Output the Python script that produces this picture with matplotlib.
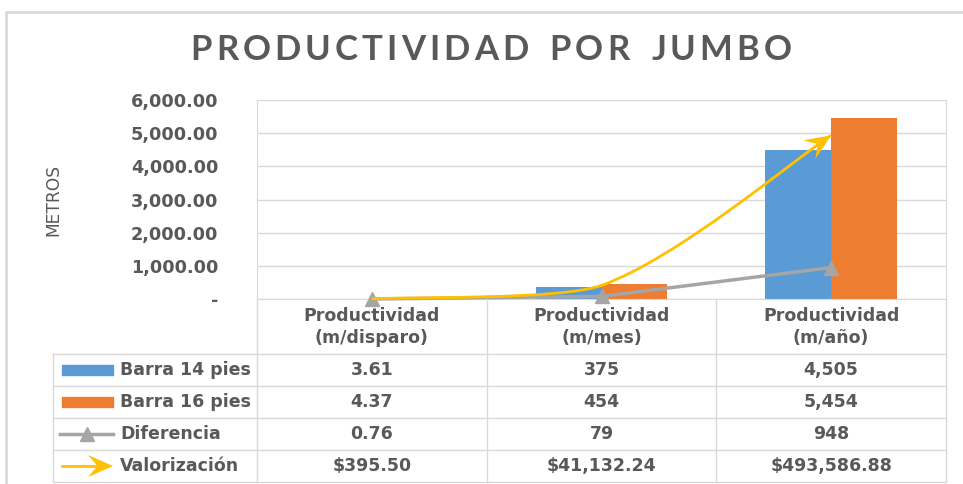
import numpy as np
import matplotlib.pyplot as plt
from matplotlib.patches import PathPatch, Polygon, Rectangle
from matplotlib.path import Path
from matplotlib.ticker import FuncFormatter
from matplotlib.font_manager import FontProperties

# datos de productividad por jumbo
categorias = ["Productividad\n(m/disparo)", "Productividad\n(m/mes)", "Productividad\n(m/año)"]
series = ["Barra 14 pies", "Barra 16 pies", "Diferencia", "Valorización"]
barra_14 = [3.61, 375, 4505]
barra_16 = [4.37, 454, 5454]
diferencia = [0.76, 79, 948]
valorizacion = [395.50, 41132.24, 493586.88]
titulo = "PRODUCTIVIDAD POR JUMBO"

AZUL = "#5B9BD5"
NARANJA = "#ED7D31"
GRIS = "#A5A5A5"
AMARILLO = "#FFC000"
TEXTO = "#595959"
LINEA = "#D9D9D9"

W, H = 963, 484
fig = plt.figure(figsize=(W / 100, H / 100), dpi=100)


def caja(x0, y0, x1, y1):
    # caja en pixeles (origen arriba a la izquierda) -> fraccion de figura
    return [x0 / W, 1 - y1 / H, (x1 - x0) / W, (y1 - y0) / H]


def fmt_metros(v):
    return f"{v:.2f}" if v < 10 else f"{v:,.0f}"


def punta(eje, tip, d, largo, semi, color):
    # punta de flecha tipo "stealth" en coordenadas de pixel de la capa
    d = np.asarray(d, float) / np.hypot(*d)
    n = np.array([-d[1], d[0]])
    tip = np.asarray(tip, float)
    base = tip - largo * d
    poly = [tip, base + semi * n, tip - 0.62 * largo * d, base - semi * n]
    eje.add_patch(Polygon(poly, closed=True, color=color, lw=0, zorder=6))


# grafico principal
ax = fig.add_axes(caja(257, 100, 946, 299))
x = np.arange(len(categorias))
ancho = 0.287
ax.bar(x - ancho / 2, barra_14, ancho, color=AZUL, zorder=2)
ax.bar(x + ancho / 2, barra_16, ancho, color=NARANJA, zorder=2)
ax.plot(x, diferencia, color=GRIS, lw=2.5, marker="^", ms=10, zorder=3, clip_on=False)
ax.set_xlim(-0.5, 2.5)
ax.set_ylim(0, 6000)
ax.set_yticks(np.arange(0, 6001, 1000))
ax.yaxis.set_major_formatter(FuncFormatter(lambda v, p: "-" if v == 0 else f"{v:,.2f}"))
ax.tick_params(axis="y", length=0, pad=28, labelsize=12.7, labelcolor=TEXTO)
for lbl in ax.get_yticklabels():
    lbl.set_fontweight("bold")
ax.set_xticks([])
ax.grid(axis="y", color=LINEA, lw=1)
ax.set_axisbelow(True)
ax.spines["top"].set_visible(False)
for s in ["left", "right", "bottom"]:
    ax.spines[s].set_color(LINEA)
ax.set_ylabel("METROS", fontsize=12.3, color=TEXTO, labelpad=0)
ax.yaxis.set_label_coords(-(257 - 62) / 689, 0.5)

# valorizacion en eje secundario oculto, curva suavizada
ax2 = ax.twinx()
ax2.set_ylim(0, 600000)
ax2.axis("off")
pts = np.column_stack([x, valorizacion]).astype(float)
ext = np.vstack([pts[0], pts, pts[-1]])
t_sal = [1 / 6, 1 / 6]   # control de salida de cada tramo
t_ent = [1 / 11, 1 / 6]  # control de llegada de cada tramo
verts = [pts[0]]
codes = [Path.MOVETO]
for i in range(len(pts) - 1):
    c1 = pts[i] + (ext[i + 2] - ext[i]) * t_sal[i]
    c2 = pts[i + 1] - (ext[i + 3] - ext[i + 1]) * t_ent[i]
    verts += [c1, c2, pts[i + 1]]
    codes += [Path.CURVE4] * 3
ax2.add_patch(PathPatch(Path(verts, codes), fill=False, edgecolor=AMARILLO,
                        lw=2, zorder=4, clip_on=False))

# capa en pixeles para titulo, borde y tabla de datos
capa = fig.add_axes([0, 0, 1, 1])
capa.set_xlim(0, W)
capa.set_ylim(H, 0)
capa.axis("off")

capa.plot([6, 6, W], [H, 12, 12], color=LINEA, lw=2)

# punta de flecha al final de la curva
a_capa = lambda p: capa.transData.inverted().transform(ax2.transData.transform(p))
fin = a_capa(pts[-1])
previo = a_capa(verts[-2])
punta(capa, fin, fin - previo, 26, 11, AMARILLO)

# titulo con espaciado entre letras
fp = FontProperties(family="Lato", weight="bold", size=25)
rend = fig.canvas.get_renderer()


def avance(ch):
    if ch == " ":
        return (rend.get_text_width_height_descent("a a", fp, ismath=False)[0]
                - rend.get_text_width_height_descent("aa", fp, ismath=False)[0])
    return rend.get_text_width_height_descent(ch, fp, ismath=False)[0]


anchos = np.array([avance(c) for c in titulo])
extra = np.array([9.0 if c == " " else 4.0 for c in titulo])
total = anchos.sum() + extra[:-1].sum()
xc = 491 - total / 2
for c, a, e in zip(titulo, anchos, extra):
    if c != " ":
        capa.text(xc, 50, c, ha="left", va="center", fontproperties=fp, color=TEXTO)
    xc += a + e

bordes = np.linspace(257, 946, len(categorias) + 1)
centros = (bordes[:-1] + bordes[1:]) / 2
filas = [354, 386, 418, 450, 482]
for y in filas:
    capa.plot([53, 946], [y, y], color=LINEA, lw=1)
capa.plot([53, 53], [filas[0], filas[-1]], color=LINEA, lw=1)
for bx in bordes:
    capa.plot([bx, bx], [299, filas[-1]], color=LINEA, lw=1)

for cx, cat in zip(centros, categorias):
    capa.text(cx, 327, cat, ha="center", va="center", fontsize=12.5,
              fontweight="bold", color=TEXTO, linespacing=1.35)

valores = [
    [fmt_metros(v) for v in barra_14],
    [fmt_metros(v) for v in barra_16],
    [fmt_metros(v) for v in diferencia],
    [f"${v:,.2f}" for v in valorizacion],
]
yc = [(filas[r] + filas[r + 1]) / 2 for r in range(len(series))]
for r, (nombre, fila) in enumerate(zip(series, valores)):
    capa.text(120, yc[r], nombre, ha="left", va="center", fontsize=12.5,
              fontweight="bold", color=TEXTO)
    for cx, txt in zip(centros, fila):
        capa.text(cx, yc[r], txt, ha="center", va="center", fontsize=12.5,
                  fontweight="bold", color=TEXTO)

# claves de leyenda
capa.add_patch(Rectangle((62, yc[0] - 5), 51, 10, color=AZUL))
capa.add_patch(Rectangle((62, yc[1] - 5), 51, 10, color=NARANJA))
capa.plot([60, 113], [yc[2], yc[2]], color=GRIS, lw=2.5)
capa.plot([87], [yc[2]], color=GRIS, marker="^", ms=10)
capa.plot([62, 100], [yc[3], yc[3]], color=AMARILLO, lw=2)
punta(capa, (113, yc[3]), (1, 0), 25, 11, AMARILLO)

fig.savefig("out.png", dpi=100)
